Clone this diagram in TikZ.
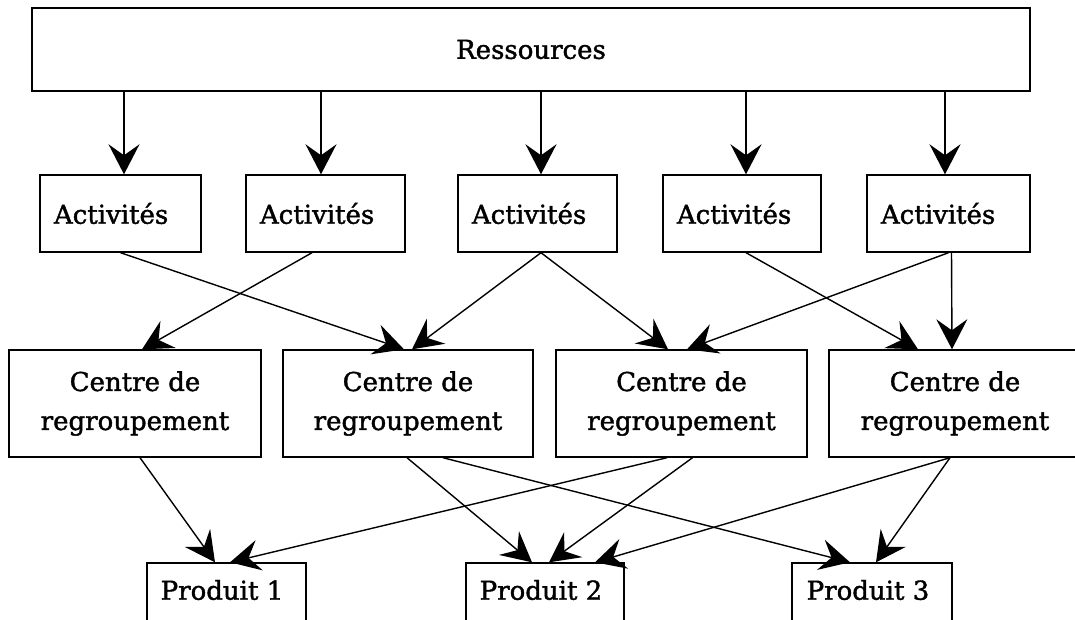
\documentclass[tikz,border=0pt]{standalone}
\usepackage{fontspec}
\setmainfont{DejaVu Serif}[RawFeature={embolden=1.5}]
\usetikzlibrary{arrows.meta}
\begin{document}
\begin{tikzpicture}[x=1pt,y=-1pt,
  box/.style={draw, line width=1.4pt, inner sep=0pt, font=\fontsize{26}{39}\selectfont},
  actbox/.style={box, minimum height=77pt, align=left, inner xsep=14pt},
  cenbox/.style={box, minimum height=107pt, align=center},
  probox/.style={box, minimum height=80pt, align=center},
  lbl/.style={font=\fontsize{26}{39}\selectfont},
  arr/.style={line width=1.4pt, -{Stealth[length=30pt,width=31pt,inset=11pt]}}]
\useasboundingbox (0,0) rectangle (1075,619);
\clip (0,0) rectangle (1075,619);
% Ressources
\node[box, minimum width=998pt, minimum height=83pt] (R) at (531,49.5) {Ressources};
% Activites
\node[actbox, text width=133pt] (A1) at (120.5,213.5) {Activités};
\node[actbox, text width=131pt] (A2) at (325.5,213.5) {Activités};
\node[actbox, text width=131pt] (A3) at (537.5,213.5) {Activités};
\node[actbox, text width=130pt] (A4) at (742,213.5) {Activités};
\node[actbox, text width=135pt] (A5) at (948.5,213.5) {Activités};
% Centres
\node[cenbox, minimum width=252pt] (C1) at (135,403.5) {Centre de\\regroupement};
\node[cenbox, minimum width=250pt] (C2) at (408,403.5) {Centre de\\regroupement};
\node[cenbox, minimum width=251pt] (C3) at (681.5,403.5) {Centre de\\regroupement};
\node[cenbox, minimum width=252pt] (C4) at (955,403.5) {Centre de\\regroupement};
% Produits
\node[probox, minimum width=159pt] (P1) at (226.5,603) {};
\node[probox, minimum width=158pt] (P2) at (545,603) {};
\node[probox, minimum width=160pt] (P3) at (872,603) {};
\node[lbl] (T1) at (222,590) {Produit 1};
\node[lbl] (T2) at (541,590) {Produit 2};
\node[lbl] (T3) at (868,590) {Produit 3};
% Ressources -> Activites
\draw[arr] ([xshift=3.5pt]A1.north |- R.south) -- ([xshift=3.5pt]A1.north);
\draw[arr] ([xshift=-4.5pt]A2.north |- R.south) -- ([xshift=-4.5pt]A2.north);
\draw[arr] ([xshift=3.5pt]A3.north |- R.south) -- ([xshift=3.5pt]A3.north);
\draw[arr] ([xshift=4pt]A4.north |- R.south) -- ([xshift=4pt]A4.north);
\draw[arr] ([xshift=-3.5pt]A5.north |- R.south) -- ([xshift=-3.5pt]A5.north);
% Activites -> Centres
\draw[arr] (A1.south) -- ([xshift=-4pt]C2.north);
\draw[arr] ([xshift=-13.5pt]A2.south) -- ([xshift=7pt]C1.north);
\draw[arr] ([xshift=3.5pt]A3.south) -- ([xshift=4pt]C2.north);
\draw[arr] ([xshift=3.5pt]A3.south) -- ([xshift=-13.5pt]C3.north);
\draw[arr] ([xshift=4pt]A4.south) -- ([xshift=-37pt]C4.north);
\draw[arr] ([xshift=0pt]A5.south) -- ([xshift=5.5pt]C3.north);
\draw[arr] ([xshift=3pt]A5.south) -- ([xshift=-3pt]C4.north);
% Centres -> Produits
\draw[arr] ([xshift=5pt]C1.south) -- ([xshift=-11.5pt]P1.north);
\draw[arr] ([xshift=-1pt]C2.south) -- ([xshift=-13pt]P2.north);
\draw[arr] ([xshift=35pt]C2.south) -- ([xshift=-22pt]P3.north);
\draw[arr] ([xshift=-14.5pt]C3.south) -- ([xshift=3.5pt]P1.north);
\draw[arr] ([xshift=11pt]C3.south) -- ([xshift=4pt]P2.north);
\draw[arr] ([xshift=-5pt]C4.south) -- ([xshift=50pt]P2.north);
\draw[arr] ([xshift=-5pt]C4.south) -- ([xshift=4pt]P3.north);
\end{tikzpicture}
\end{document}
